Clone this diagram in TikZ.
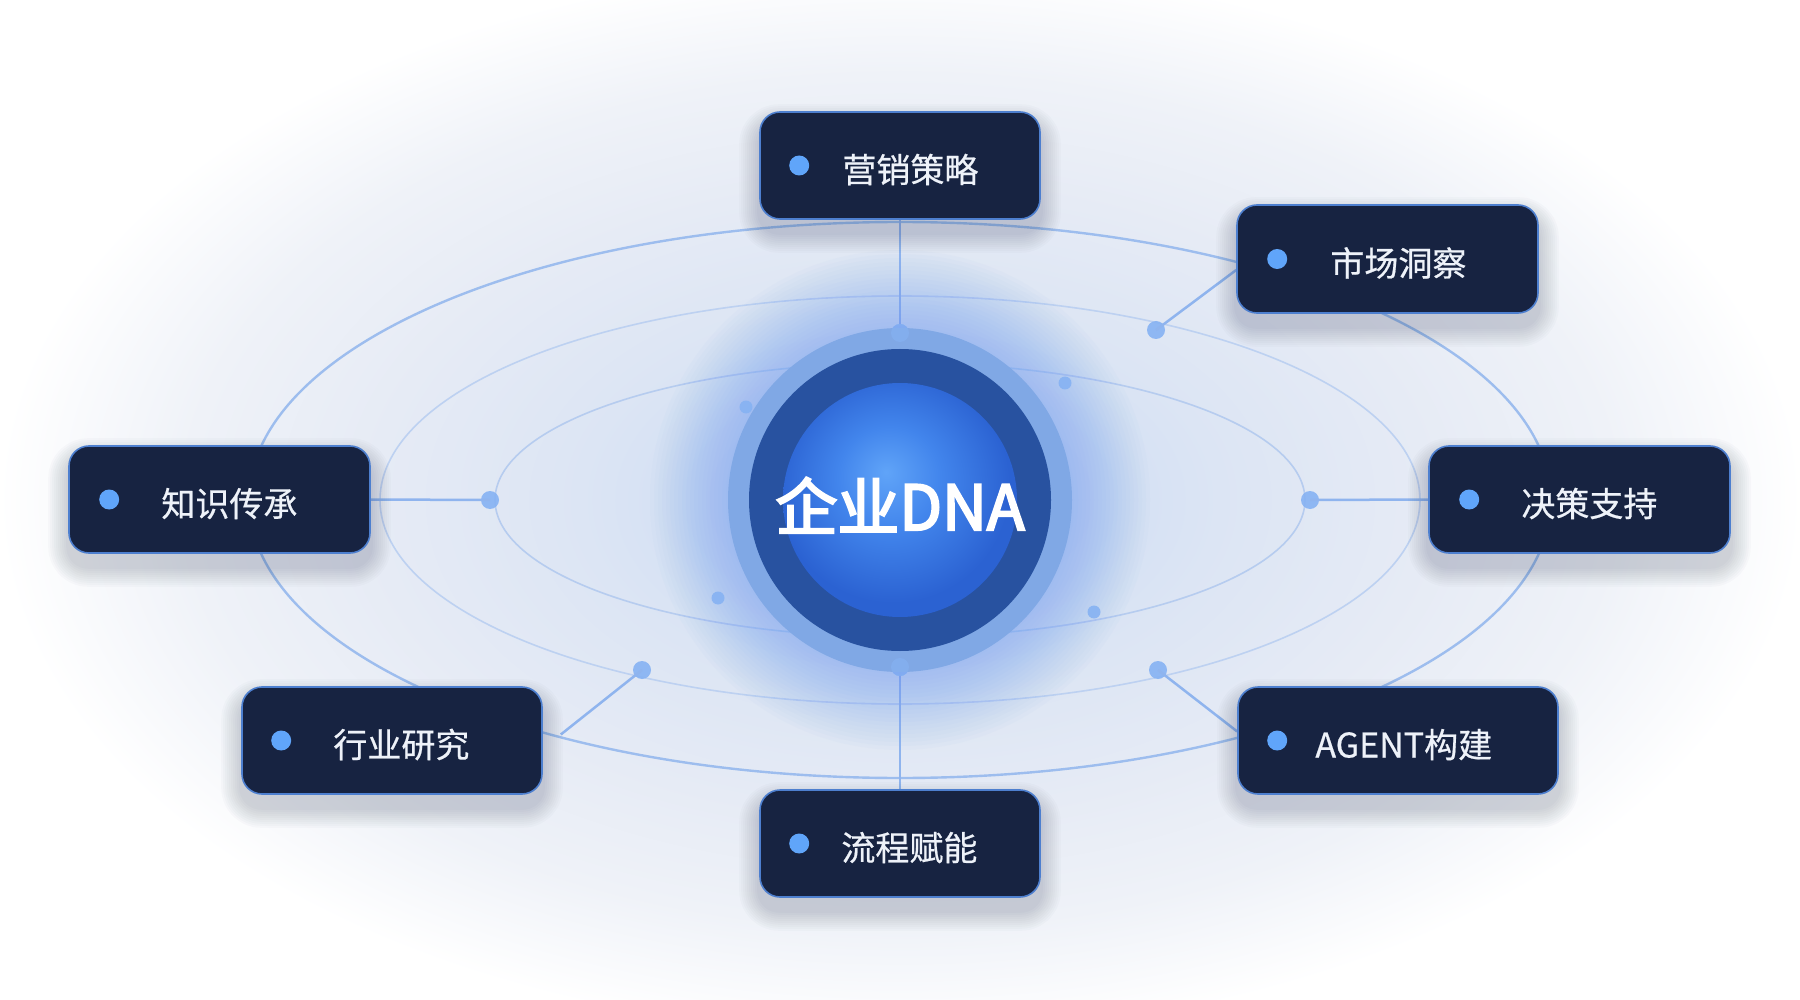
\documentclass[tikz,border=0pt]{standalone}
\usepackage{fontspec}
\setmainfont{Noto Sans CJK SC}
\newfontfamily\lblfont[FakeBold=0.6]{Noto Sans CJK SC}
\newfontfamily\corefont[FakeBold=3.5]{Noto Sans CJK SC}
\usetikzlibrary{calc}

\definecolor{navy}{HTML}{172341}
\definecolor{boxborder}{HTML}{4D7FCF}
\definecolor{bdot}{HTML}{60A5FA}
\definecolor{lblC}{HTML}{EEF2F9}
\definecolor{lineC}{HTML}{8FB4EE}
\definecolor{outerC}{HTML}{9DBDEE}
\definecolor{midC}{HTML}{BDD1F1}
\definecolor{innerC}{HTML}{B6CCEF}
\definecolor{nodeDot}{HTML}{86B2F3}
\definecolor{bgA}{HTML}{C3D6F6}
\definecolor{bgB}{HTML}{D0DEF5}
\definecolor{bgC}{HTML}{DCE5F4}
\definecolor{bgD}{HTML}{E6EBF5}
\definecolor{bgE}{HTML}{EFF2F8}
\definecolor{glowC}{HTML}{6A9CF0}
\definecolor{ringC}{HTML}{80A8E5}
\definecolor{darkRing}{HTML}{2852A0}
\definecolor{sphA}{HTML}{60A4F8}
\definecolor{sphB}{HTML}{4285EC}
\definecolor{sphC}{HTML}{2B62D2}
\definecolor{shadowC}{HTML}{1E2A4A}

\pgfdeclareradialshading{bgshade}{\pgfpoint{0bp}{0bp}}{color(0bp)=(bgA); color(4.2bp)=(bgB); color(8.5bp)=(bgC); color(14bp)=(bgD); color(19bp)=(bgE); color(24bp)=(white); color(50bp)=(white)}
\pgfdeclareradialshading{spheresh}{\pgfpoint{-3bp}{6bp}}{color(0bp)=(sphA); color(11bp)=(sphB); color(25bp)=(sphC); color(50bp)=(sphC)}

\pgfdeclarelayer{shad}
\pgfdeclarelayer{front}
\pgfsetlayers{main,shad,front}

\tikzset{
  card/.style={rectangle, rounded corners=20pt, fill=navy, draw=boxborder, line width=1.6pt, minimum height=107pt, inner sep=0pt},
  lbl/.style={font=\lblfont\fontsize{34}{40}\selectfont, text=lblC, inner sep=0pt, anchor=base west},
  bdotS/.style={circle, fill=bdot, minimum size=20pt, inner sep=0pt},
  cdot/.style={circle, fill=nodeDot, fill opacity=0.9, minimum size=18pt, inner sep=0pt},
  sdot/.style={circle, fill=nodeDot, fill opacity=0.9, minimum size=13pt, inner sep=0pt},
  conn/.style={draw=lineC, line width=2.5pt},
}

\newcommand\cardshadow[1]{%
  \foreach \s in {1,...,10}{%
    \pgfmathsetmacro\rc{20+2*\s}%
    \fill[shadowC, fill opacity=0.02, rounded corners=\rc pt]
      ($(#1.south west)+(-2*\s, 13+2*\s)$) rectangle ($(#1.north east)+(2*\s, 13-2*\s)$);
  }%
}

\begin{document}
\begin{tikzpicture}[x=1pt,y=-1pt]
% ---------- cards (front layer)
\begin{pgfonlayer}{front}
\node[card, minimum width=280pt] (b1) at (900,165.5) {};
\node[card, minimum width=301pt, minimum height=108pt] (b2) at (1387.5,259) {};
\node[card, minimum width=301pt] (b3) at (1579.5,499.5) {};
\node[card, minimum width=320pt] (b4) at (1398,740.5) {};
\node[card, minimum width=280pt] (b5) at (900,843.5) {};
\node[card, minimum width=300pt] (b6) at (392,740.5) {};
\node[card, minimum width=301pt] (b7) at (219.5,499.5) {};

\node[bdotS] (p1) at ($(b1.west)+(40,0)$) {};
\node[bdotS] (p2) at ($(b2.west)+(41,0)$) {};
\node[bdotS] (p3) at ($(b3.west)+(41,0)$) {};
\node[bdotS] (p4) at ($(b4.west)+(40,0)$) {};
\node[bdotS] (p5) at ($(b5.west)+(40,0)$) {};
\node[bdotS] (p6) at ($(b6.west)+(40,0)$) {};
\node[bdotS] (p7) at ($(b7.west)+(41,0)$) {};

\node[lbl] (t1) at ($(b1.west)+(83,17)$) {营销策略};
\node[lbl] (t2) at ($(b2.west)+(94,17)$) {市场洞察};
\node[lbl] (t3) at ($(b3.west)+(93,17)$) {决策支持};
\node[lbl] (t4) at ($(b4.west)+(78,17)$) {AGENT构建};
\node[lbl] (t5) at ($(b5.west)+(82,17)$) {流程赋能};
\node[lbl] (t6) at ($(b6.west)+(92,17)$) {行业研究};
\node[lbl] (t7) at ($(b7.west)+(93,17)$) {知识传承};
\end{pgfonlayer}

% ---------- card shadows
\begin{pgfonlayer}{shad}
\cardshadow{b1}\cardshadow{b2}\cardshadow{b3}\cardshadow{b4}\cardshadow{b5}\cardshadow{b6}\cardshadow{b7}
\end{pgfonlayer}

% ---------- background
\fill[white] (0,0) rectangle (1800,1000);
\shade[shading=bgshade] (900,500) ellipse (940pt and 560pt);

\coordinate (ctr) at (900,500);

% orbits
\draw[outerC, line width=2.4pt] (ctr) ellipse (651pt and 278pt);
\draw[midC, line width=1.6pt] (ctr) ellipse (520pt and 204pt);
\draw[innerC, line width=1.6pt] (ctr) ellipse (405pt and 137pt);

% dots on orbits
\node[cdot] (d1) at (900,333) {};
\node[cdot] (d2) at (1156,330) {};
\node[cdot] (d3) at (1310,500) {};
\node[cdot] (d4) at (1158,670) {};
\node[cdot] (d5) at (900,667) {};
\node[cdot] (d6) at (642,670) {};
\node[cdot] (d7) at (490,500) {};

% connectors
\coordinate (b2c) at ($(b2.west)+(0,11)$);
\coordinate (b4c) at ($(b4.west)+(0,-9)$);
\coordinate (b6c) at ($(b6.east)+(18,-6)$);
\draw[conn] (b1.south) -- (d1.center);
\draw[conn] (b2c) -- (d2.center);
\draw[conn] (b3.west) -- (d3.center);
\draw[conn] (b4c) -- (d4.center);
\draw[conn] (b5.north) -- (d5.center);
\draw[conn] (b6c) -- (d6.center);
\draw[conn] (b7.east) -- (d7.center);

% soft glow around the core
\foreach \r in {250,246,...,174}{%
  \fill[glowC, fill opacity=0.026] (ctr) circle (\r pt);
}
% core sphere
\fill[ringC] (ctr) circle (172pt);
\fill[darkRing] (ctr) circle (151pt);
\shade[shading=spheresh] (ctr) circle (117pt);
\node[font=\corefont\fontsize{62}{72}\selectfont, text=white, inner sep=0pt, anchor=base] (core) at (900,530) {企业DNA};

% dots redrawn above the ring
\node[cdot, fill opacity=0.6] (d1b) at (d1) {};
\node[cdot, fill opacity=0.6] (d5b) at (d5) {};

% floating dots
\node[sdot] (f1) at (746,407) {};
\node[sdot] (f2) at (1065,383) {};
\node[sdot] (f3) at (718,598) {};
\node[sdot] (f4) at (1094,612) {};

\pgfresetboundingbox
\useasboundingbox (0,0) rectangle (1800,1000);
\end{tikzpicture}
\end{document}
